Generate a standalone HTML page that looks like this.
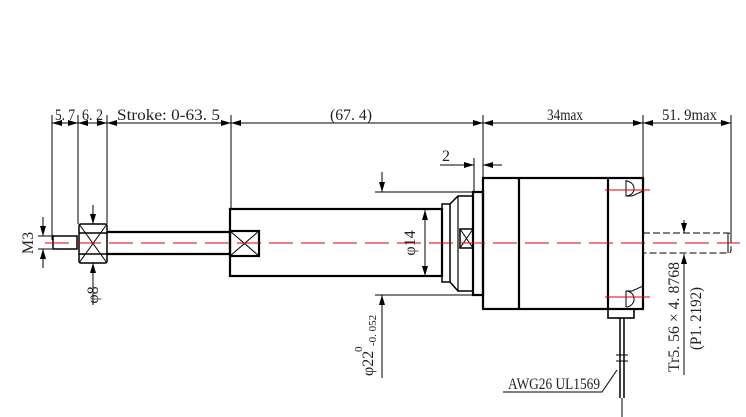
<!DOCTYPE html>
<html><head><meta charset="utf-8"><style>
html,body{margin:0;padding:0;background:#fff;}
svg{display:block;}
text{font-family:"Liberation Serif",serif;fill:#222;}
</style></head><body>
<svg width="746" height="417" viewBox="0 0 746 417" xmlns="http://www.w3.org/2000/svg">
<defs>
<marker id="a" viewBox="0 0 10 6" refX="10" refY="3" markerWidth="10" markerHeight="6" orient="auto-start-reverse" markerUnits="userSpaceOnUse"><path d="M0,0 L10,3 L0,6 z" fill="#000"/></marker>
</defs>
<g stroke="#000" stroke-width="1" fill="none">
<line x1="52" y1="115" x2="52" y2="240"/>
<line x1="78" y1="115" x2="78" y2="224"/>
<line x1="107" y1="115" x2="107" y2="224"/>
<line x1="231" y1="115" x2="231" y2="209"/>
<line x1="483" y1="115" x2="483" y2="178"/>
<line x1="643" y1="115" x2="643" y2="178"/>
<line x1="731" y1="115" x2="731" y2="240"/>
<line x1="52" y1="123" x2="78" y2="123" marker-start="url(#a)" marker-end="url(#a)"/>
<line x1="78" y1="123" x2="107" y2="123" marker-start="url(#a)" marker-end="url(#a)"/>
<line x1="107" y1="123" x2="231" y2="123" marker-start="url(#a)" marker-end="url(#a)"/>
<line x1="231" y1="123" x2="483" y2="123" marker-start="url(#a)" marker-end="url(#a)"/>
<line x1="483" y1="123" x2="643" y2="123" marker-start="url(#a)" marker-end="url(#a)"/>
<line x1="643" y1="123" x2="731" y2="123" marker-start="url(#a)" marker-end="url(#a)"/>
<line x1="474" y1="158" x2="474" y2="192"/>
<line x1="440" y1="165" x2="474" y2="165" marker-end="url(#a)"/>
<line x1="502" y1="165" x2="483" y2="165" marker-end="url(#a)"/>
<line x1="38" y1="236" x2="52" y2="236"/>
<line x1="38" y1="249" x2="52" y2="249"/>
<line x1="43" y1="217" x2="43" y2="236" marker-end="url(#a)"/>
<line x1="43" y1="268" x2="43" y2="249" marker-end="url(#a)"/>
<line x1="93" y1="205" x2="93" y2="224" marker-end="url(#a)"/>
<line x1="93" y1="305" x2="93" y2="263" marker-end="url(#a)"/>
<line x1="425" y1="243" x2="425" y2="210" marker-end="url(#a)"/>
<line x1="425" y1="243" x2="425" y2="276" marker-end="url(#a)"/>
<line x1="375" y1="192" x2="473" y2="192"/>
<line x1="375" y1="295" x2="473" y2="295"/>
<line x1="382" y1="172" x2="382" y2="192" marker-end="url(#a)"/>
<line x1="382" y1="378" x2="382" y2="295" marker-end="url(#a)"/>
<line x1="684" y1="220" x2="684" y2="233" marker-end="url(#a)"/>
<line x1="684" y1="375" x2="684" y2="254" marker-end="url(#a)"/>
</g>
<g stroke="#000" stroke-width="2.2" fill="none">
<rect x="53" y="236" width="24" height="13" stroke-width="1.5"/>
<rect x="79" y="224" width="28" height="39" rx="2" stroke-width="1.5"/>
<line x1="79" y1="233" x2="107" y2="233" stroke-width="1.5"/>
<line x1="79" y1="254" x2="107" y2="254" stroke-width="1.5"/>
<line x1="107" y1="232" x2="230" y2="232"/>
<line x1="107" y1="254" x2="230" y2="254"/>
<rect x="230" y="209" width="212" height="67"/>
<rect x="230" y="231" width="29" height="25"/>
<rect x="442" y="204" width="8" height="78" stroke-width="1.5"/>
<path d="M450,204 L458,196 L473,196 L473,291 L458,291 L450,282" stroke-width="1.5"/>
<line x1="458" y1="196" x2="458" y2="291" stroke-width="1.2"/>
<rect x="460" y="229" width="13" height="19" stroke-width="1.5"/>
<rect x="473" y="192" width="10" height="103"/>
<rect x="483" y="178" width="160" height="131"/>
<line x1="519" y1="178" x2="519" y2="309"/>
<line x1="608" y1="178" x2="608" y2="309"/>
<rect x="608" y="309" width="26" height="9" stroke-width="1.6"/>
<line x1="620" y1="318" x2="620" y2="398" stroke-width="1.5"/>
<line x1="624" y1="318" x2="624" y2="398" stroke-width="1.5"/>
</g>
<g stroke="#000" stroke-width="1" fill="none">
<path d="M79,224 L107,263 M107,224 L79,263"/>
<path d="M230,231 L259,256 M259,231 L230,256"/>
<path d="M460,229 L473,248 M473,229 L460,248"/>
<path d="M626,180 L626,196 L632,196 L643,191"/>
<path d="M626,181 A8,8 0 0,1 634,190 A8,8 0 0,1 626,196"/>
<path d="M626,307 L626,291 L632,291 L643,286"/>
<path d="M626,291 A8,8 0 0,1 634,298 A8,8 0 0,1 626,307"/>
<path d="M643,233 L728,233 Q731,233 731,236 L731,250 Q731,253 728,253 L643,253" stroke-dasharray="7,3"/>
<line x1="728" y1="233" x2="728" y2="253"/>
<line x1="616" y1="355" x2="628" y2="355"/>
<line x1="616" y1="361" x2="628" y2="361"/>
<line x1="622" y1="398" x2="622" y2="417"/>
<path d="M617,370 L602,392 L503,392"/>
</g>
<g stroke="#e00000" stroke-width="1" fill="none">
<line x1="45" y1="243" x2="740" y2="243" stroke-dasharray="24,8"/>
<line x1="605" y1="190" x2="650" y2="190"/>
<line x1="605" y1="297" x2="650" y2="297"/>
</g>
<g font-size="16" lengthAdjust="spacingAndGlyphs">
<text x="55" y="120" textLength="20" lengthAdjust="spacingAndGlyphs">5. 7</text>
<text x="82" y="120" textLength="21" lengthAdjust="spacingAndGlyphs">6. 2</text>
<text x="117" y="120" textLength="103" lengthAdjust="spacingAndGlyphs">Stroke: 0-63. 5</text>
<text x="330" y="120" textLength="42" lengthAdjust="spacingAndGlyphs">(67. 4)</text>
<text x="547" y="120" textLength="36" lengthAdjust="spacingAndGlyphs">34max</text>
<text x="662" y="120" textLength="55" lengthAdjust="spacingAndGlyphs">51. 9max</text>
<text x="442" y="161" textLength="8" lengthAdjust="spacingAndGlyphs">2</text>
<text x="508" y="389" textLength="92" lengthAdjust="spacingAndGlyphs">AWG26 UL1569</text>
<text transform="translate(33,243) rotate(-90)" text-anchor="middle">M3</text>
<text transform="translate(98,295) rotate(-90)" text-anchor="middle">φ8</text>
<text transform="translate(415,243) rotate(-90)" text-anchor="middle">φ14</text>
<text transform="translate(373,376) rotate(-90)">φ22</text>
<text transform="translate(362,352) rotate(-90)" font-size="11">0</text>
<text transform="translate(376,346) rotate(-90)" font-size="11">-0. 052</text>
<text transform="translate(679,372) rotate(-90)" textLength="110" lengthAdjust="spacingAndGlyphs">Tr5. 56 × 4. 8768</text>
<text transform="translate(701,350) rotate(-90)" textLength="63" lengthAdjust="spacingAndGlyphs">(P1. 2192)</text>
</g>
</svg>
</body></html>
